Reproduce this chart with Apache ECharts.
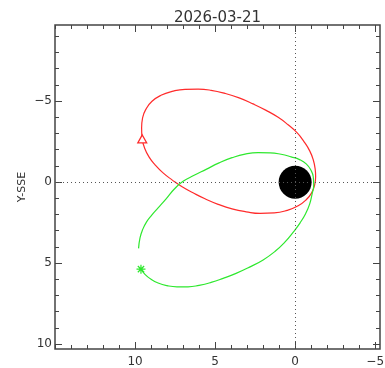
<!DOCTYPE html>
<html><head><meta charset="utf-8">
<script src="https://cdn.jsdelivr.net/npm/echarts@6/dist/echarts.min.js"></script>
<style>html,body{margin:0;padding:0;background:#fff}#c{width:385px;height:368px}</style>
</head><body><div id="c"></div>
<script>
const chartTitle = '2026-03-21';
const yAxisName = 'Y-SSE';
const xMajorTicks = [10, 5, 0, -5];
const xMinorTicks = [15,14,13,12,11,10,9,8,7,6,5,4,3,2,1,0,-1,-2,-3,-4,-5];
const yMajorTicks = [-5, 0, 5, 10];
const yMinorTicks = [-9,-8,-7,-6,-5,-4,-3,-2,-1,0,1,2,3,4,5,6,7,8,9,10];

const redX = [9.56,9.41,9.13,8.75,8.25,7.69,7.06,6.38,5.63,4.81,3.94,3.06,2.19,1.31,0.5,-0.19,-0.69,-1.03,-1.22,-1.28,-1.25,-1.13,-0.91,-0.56,-0.13,0.44,1.06,1.81,2.63,3.5,4.38,5.25,6.06,6.88,7.69,8.38,8.94,9.31,9.53,9.59,9.56];
const redY = [-2.67,-2.12,-1.56,-1.07,-0.57,-0.14,0.29,0.66,1.03,1.37,1.65,1.83,1.93,1.9,1.74,1.46,1.09,0.66,0.17,-0.33,-0.82,-1.38,-1.93,-2.49,-3.04,-3.54,-4.0,-4.43,-4.83,-5.2,-5.48,-5.67,-5.74,-5.73,-5.6,-5.36,-4.99,-4.52,-3.97,-3.35,-2.67];
const greenX = [9.63,9.38,9.0,8.56,8.0,7.38,6.69,6.0,5.25,4.5,3.69,2.88,2.0,1.25,0.63,0.13,-0.31,-0.66,-0.91,-1.06,-1.16,-1.13,-0.97,-0.69,-0.28,0.25,0.88,1.56,2.31,3.13,3.94,4.75,5.56,6.31,7.0,7.56,8.06,8.56,8.97,9.28,9.53,9.69,9.78];
const greenY = [5.37,5.69,6.0,6.23,6.39,6.46,6.46,6.37,6.19,5.94,5.63,5.26,4.8,4.27,3.69,3.1,2.51,1.93,1.34,0.72,0.17,-0.33,-0.76,-1.13,-1.39,-1.56,-1.72,-1.81,-1.82,-1.73,-1.51,-1.19,-0.79,-0.42,-0.05,0.44,1.03,1.59,2.05,2.45,2.94,3.44,4.09];
const redStart = [9.55, -2.67];
const greenStart = [9.63, 5.37];
const earthPos = [0, 0];

const RED = '#ff2b2b', GREEN = '#2ee82e', AX = '#444';
const XMIN = -5.3, XMAX = 15, YMIN = -9.7, YMAX = 10.3;
const fmt = v => String(v).replace('-', '\u2212');

function xAx(pos, ticks, len, labels) {
  return {type:'value', position:pos, min:XMIN, max:XMAX, inverse:true,
    axisLine:{show:false, onZero:false}, splitLine:{show:false},
    axisTick:{show:true, inside:true, length:len, customValues:ticks, lineStyle:{color:AX, width:1}},
    axisLabel:{show:labels, customValues:ticks, formatter:fmt, color:'#333', fontFamily:'DejaVu Sans', fontSize:12, margin:7}};
}
function yAx(pos, ticks, len, labels, name) {
  return {type:'value', position:pos, min:YMIN, max:YMAX, inverse:true,
    name: name || '', nameLocation:'middle', nameRotate:90, nameGap:27, nameMoveOverlap:false,
    nameTextStyle:{color:'#333', fontFamily:'DejaVu Sans', fontSize:11},
    axisLine:{show:false, onZero:false}, splitLine:{show:false},
    axisTick:{show:true, inside:true, length:len, customValues:ticks, lineStyle:{color:AX, width:1}},
    axisLabel:{show:labels, customValues:ticks, formatter:fmt, color:'#333', fontFamily:'DejaVu Sans', fontSize:12, margin:3}};
}
const zip = (a, b) => a.map((v, i) => [v, b[i]]);

const chart = echarts.init(document.getElementById('c'), null, {renderer:'canvas'});
chart.setOption({
  animation:false,
  title:{text:chartTitle, left:212.5, textAlign:'center', top:6,
    textStyle:{color:'#333', fontFamily:'DejaVu Sans', fontSize:15, fontWeight:'normal'}},
  grid:{left:55, right:5, top:25, bottom:19, show:true, borderColor:AX, borderWidth:1.5,
    backgroundColor:'transparent', containLabel:false, outerBoundsMode:'none'},
  xAxis:[xAx('bottom', xMajorTicks, 7, true), xAx('bottom', xMinorTicks, 4, false),
         xAx('top', xMajorTicks, 7, false), xAx('top', xMinorTicks, 4, false)],
  yAxis:[yAx('left', yMajorTicks, 7, true, yAxisName), yAx('left', yMinorTicks, 4, false),
         yAx('right', yMajorTicks, 7, false), yAx('right', yMinorTicks, 4, false)],
  series:[
    {type:'scatter', data:[earthPos], symbolSize:33, itemStyle:{color:'#000', opacity:1}, z:1,
      markLine:{silent:true, symbol:['none','none'], label:{show:false},
        lineStyle:{type:[1,3], color:'#555', width:1},
        data:[{xAxis:0},{yAxis:0}]}},
    {type:'line', data:zip(redX, redY), showSymbol:false, smooth:0.5, z:3,
      lineStyle:{color:RED, width:1.2}},
    {type:'line', data:zip(greenX, greenY), showSymbol:false, smooth:0.5, z:3,
      lineStyle:{color:GREEN, width:1.2}},
    {type:'scatter', data:[redStart], symbol:'triangle', symbolSize:[9,8], z:4,
      itemStyle:{color:'#fff', borderColor:RED, borderWidth:1.2, opacity:1}},
    {type:'scatter', data:[greenStart], z:4,
      symbol:'path://M0 5L10 5M5 0L5 10M1.5 1.5L8.5 8.5M8.5 1.5L1.5 8.5', symbolSize:9,
      itemStyle:{color:'none', borderColor:GREEN, borderWidth:1.2, opacity:1}}
  ]
});
</script></body></html>
